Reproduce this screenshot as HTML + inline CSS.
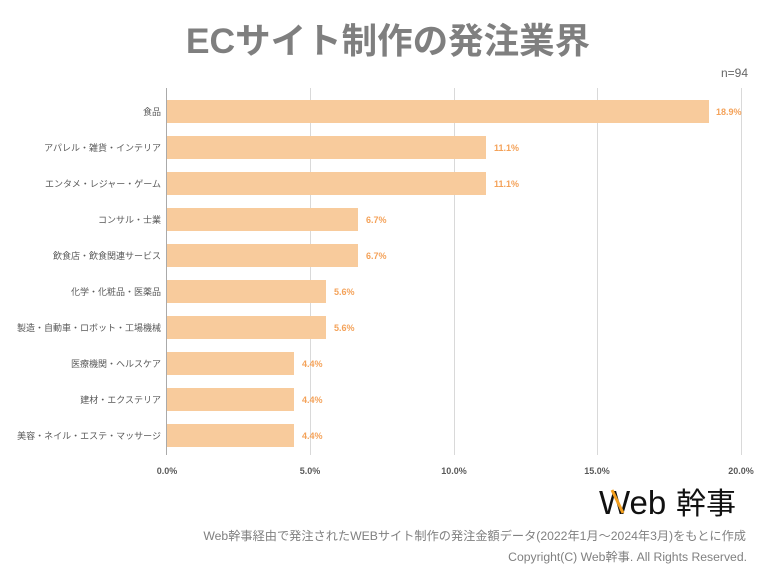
<!DOCTYPE html>
<html><head><meta charset="utf-8"><style>
body{margin:0;width:768px;height:576px;background:#fff;font-family:"Liberation Sans","Noto Sans CJK JP",sans-serif;position:relative;overflow:hidden}
.t{position:absolute;white-space:nowrap}
</style></head><body>
<div class="t" style="left:0;width:768px;top:18px;text-align:center;font-size:35.5px;font-weight:bold;color:#7f7f7f;line-height:46px;padding-left:4px">ECサイト制作の発注業界</div>
<div class="t" style="right:20px;top:66px;font-size:12px;color:#666">n=94</div>
<svg width="768" height="576" style="position:absolute;left:0;top:0" font-family="Liberation Sans, Noto Sans CJK JP, sans-serif">
<g stroke="#d9d9d9" stroke-width="1">
<line x1="310.5" y1="88" x2="310.5" y2="455"/><line x1="454.5" y1="88" x2="454.5" y2="455"/><line x1="597.5" y1="88" x2="597.5" y2="455"/><line x1="741.5" y1="88" x2="741.5" y2="455"/>
</g>
<g fill="#F8CB9C">
<rect x="167" y="100" width="542" height="23"/>
<rect x="167" y="136" width="319" height="23"/>
<rect x="167" y="172" width="319" height="23"/>
<rect x="167" y="208" width="191" height="23"/>
<rect x="167" y="244" width="191" height="23"/>
<rect x="167" y="280" width="159" height="23"/>
<rect x="167" y="316" width="159" height="23"/>
<rect x="167" y="352" width="127" height="23"/>
<rect x="167" y="388" width="127" height="23"/>
<rect x="167" y="424" width="127" height="23"/>
</g>
<line x1="166.5" y1="88" x2="166.5" y2="455" stroke="#aaa"/>
<g font-size="9" fill="#595959" text-anchor="end">
<text x="161" y="115">食品</text>
<text x="161" y="151">アパレル・雑貨・インテリア</text>
<text x="161" y="187">エンタメ・レジャー・ゲーム</text>
<text x="161" y="223">コンサル・士業</text>
<text x="161" y="259">飲食店・飲食関連サービス</text>
<text x="161" y="295">化学・化粧品・医薬品</text>
<text x="161" y="331">製造・自動車・ロボット・工場機械</text>
<text x="161" y="367">医療機関・ヘルスケア</text>
<text x="161" y="403">建材・エクステリア</text>
<text x="161" y="439">美容・ネイル・エステ・マッサージ</text>
</g>
<g font-size="9" font-weight="bold" fill="#F4A259">
<text x="716" y="115">18.9%</text>
<text x="494" y="151">11.1%</text>
<text x="494" y="187">11.1%</text>
<text x="366" y="223">6.7%</text>
<text x="366" y="259">6.7%</text>
<text x="334" y="295">5.6%</text>
<text x="334" y="331">5.6%</text>
<text x="302" y="367">4.4%</text>
<text x="302" y="403">4.4%</text>
<text x="302" y="439">4.4%</text>
</g>
<g font-size="9" font-weight="bold" fill="#595959" text-anchor="middle">
<text x="167" y="474">0.0%</text><text x="310" y="474">5.0%</text><text x="454" y="474">10.0%</text><text x="597" y="474">15.0%</text><text x="741" y="474">20.0%</text>
</g>
<text x="599" y="514" font-size="33" fill="#111" font-family="Liberation Sans, sans-serif">Web</text>
<line x1="612" y1="490" x2="623" y2="513" stroke="#F4A020" stroke-width="3"/>
<text x="676" y="514" font-size="30" fill="#111" font-family="Noto Sans CJK JP, sans-serif">幹事</text>
</svg>
<div class="t" style="right:22px;top:526px;font-size:12.2px;color:#808080">Web幹事経由で発注されたWEBサイト制作の発注金額データ(2022年1月～2024年3月)をもとに作成</div>
<div class="t" style="right:21px;top:547px;font-size:12.2px;color:#808080">Copyright(C) Web幹事. All Rights Reserved.</div>
</body></html>
